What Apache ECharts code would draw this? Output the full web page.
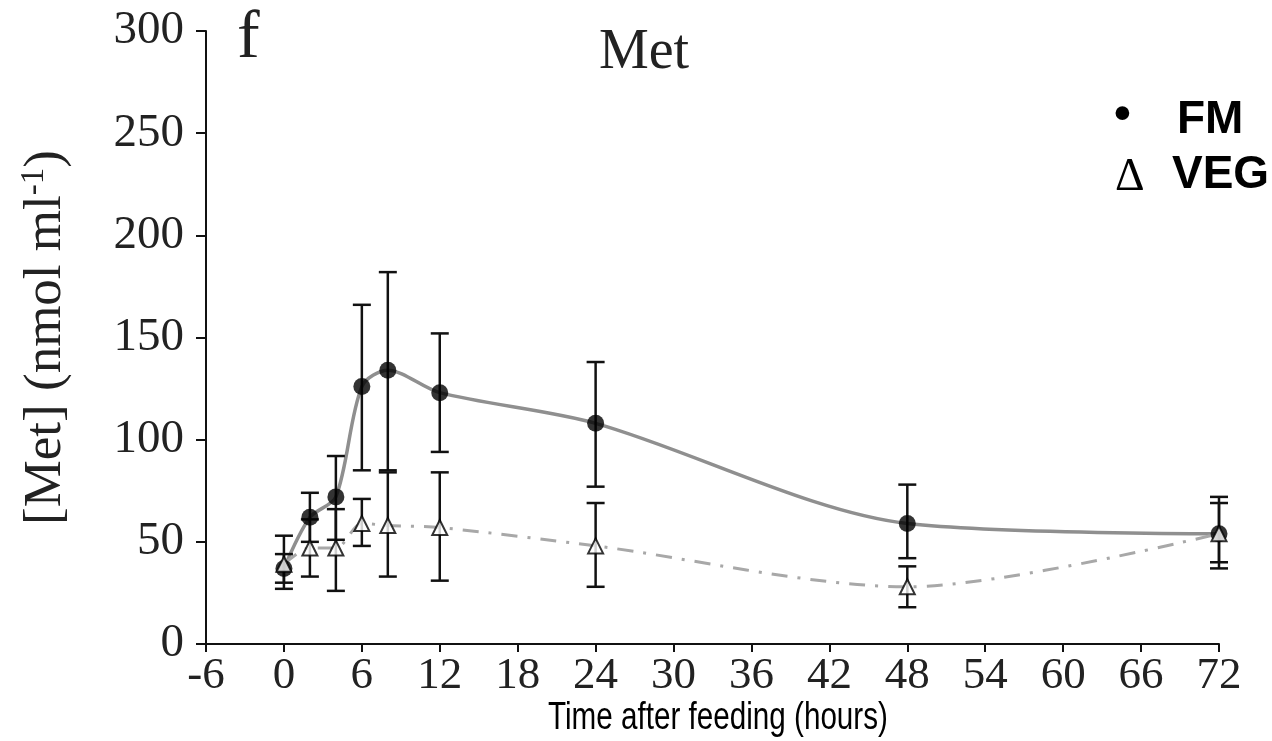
<!DOCTYPE html>
<html>
<head>
<meta charset="utf-8">
<script src="https://cdn.jsdelivr.net/npm/echarts@6/dist/echarts.min.js"></script>
<style>html,body{margin:0;padding:0;background:#fff;}#c{width:1272px;height:741px;}</style>
</head>
<body>
<div id="c"></div>
<script>
// ---- data ----
var hours    = [0, 2, 4, 6, 8, 12, 24, 48, 72];
var fmMean   = [37, 62, 72, 126, 134, 123, 108, 59, 54];
var fmLow    = [27, 50, 51, 85, 85, 94, 77, 42, 37];
var fmHigh   = [53, 74, 92, 166, 182, 152, 138, 78, 72];
var vegMean  = [39, 47, 47, 59, 58, 57, 48, 28, 54];
var vegLow   = [30, 33, 26, 48, 33, 31, 28, 18, 40];
var vegHigh  = [44, 61, 66, 71, 84, 84, 69, 38, 69];
var xTicks   = { min: -6, max: 72, step: 6 };
var yTicks   = { min: 0, max: 300, step: 50 };
var xTitle   = 'Time after feeding (hours)';
var yTitleMain = '[Met] (nmol ml';
var yTitleSup  = '-1';
var panelTitle = 'Met';
var panelLetter = 'f';
var legendNames = ['FM', 'VEG'];

function pairs(xs, ys) { return xs.map(function (x, i) { return [x, ys[i]]; }); }
function errData(xs, lo, hi) { return xs.map(function (x, i) { return [x, lo[i], hi[i]]; }); }

function errRender(params, api) {
  var x = api.value(0);
  var lo = api.coord([x, api.value(1)]);
  var hi = api.coord([x, api.value(2)]);
  var w = 9;
  var st = { stroke: '#111', lineWidth: 2.5 };
  return {
    type: 'group',
    children: [
      { type: 'line', shape: { x1: hi[0], y1: hi[1], x2: lo[0], y2: lo[1] }, style: st },
      { type: 'line', shape: { x1: hi[0] - w, y1: hi[1], x2: hi[0] + w, y2: hi[1] }, style: st },
      { type: 'line', shape: { x1: lo[0] - w, y1: lo[1], x2: lo[0] + w, y2: lo[1] }, style: st }
    ]
  };
}

var serif = '"Liberation Serif", "Times New Roman", serif';
var sans = '"Liberation Sans", Arial, sans-serif';

var chart = echarts.init(document.getElementById('c'), null, { renderer: 'canvas' });
chart.setOption({
  backgroundColor: '#fff',
  animation: false,
  grid: { left: 206, right: 53, top: 31, bottom: 97, containLabel: false },
  xAxis: {
    type: 'value', min: xTicks.min, max: xTicks.max, interval: xTicks.step,
    axisLine: { onZero: false, lineStyle: { color: '#111', width: 2 } },
    axisTick: { show: true, length: 8, inside: false, lineStyle: { color: '#111', width: 2 } },
    axisLabel: { fontFamily: serif, fontSize: 45, color: '#222', margin: 10 },
    splitLine: { show: false }
  },
  yAxis: {
    type: 'value', min: yTicks.min, max: yTicks.max, interval: yTicks.step,
    axisLine: { show: true, onZero: false, lineStyle: { color: '#111', width: 2 } },
    axisTick: { show: true, length: 10, lineStyle: { color: '#111', width: 2 } },
    axisLabel: { fontFamily: serif, fontSize: 47, color: '#222', margin: 22 },
    splitLine: { show: false },
    name: '{a|' + yTitleMain + '}{b|' + yTitleSup + '}{a|)}', nameLocation: 'middle', nameGap: 132, nameRotate: 90,
    nameTextStyle: {
      color: '#222',
      rich: {
        a: { fontFamily: serif, fontSize: 53, color: '#222', lineHeight: 56 },
        b: { fontFamily: serif, fontSize: 33, color: '#222', verticalAlign: 'top', lineHeight: 56, padding: [0, 0, 16, 0] }
      }
    }
  },
  title: [
    { text: panelTitle, left: 639, top: 20, textAlign: 'center',
      textStyle: { fontFamily: serif, fontSize: 56, fontWeight: 'normal', color: '#222' } },
    { text: panelLetter, left: 232, top: 0,
      textStyle: { fontFamily: serif, fontSize: 68, fontWeight: 'normal', color: '#222' } }
  ],
  graphic: [
    { type: 'text', x: 548, y: 700, scaleX: 0.78,
      style: { text: xTitle, font: '38px ' + sans, fill: '#000', verticalAlign: 'top', align: 'left' } },
    { type: 'text', left: 1114, top: 92, style: { text: '\u2022', font: 'bold 48px ' + sans, fill: '#000' } },
    { type: 'text', left: 1177, top: 97, style: { text: legendNames[0], font: 'bold 46px ' + sans, fill: '#000' } },
    { type: 'text', left: 1115, top: 155, style: { text: '\u0394', font: '46px ' + serif, fill: '#000' } },
    { type: 'text', left: 1172, top: 152, style: { text: legendNames[1], font: 'bold 46px ' + sans, fill: '#000' } }
  ],
  series: [
    { name: 'FM', type: 'line', data: pairs(hours, fmMean), smooth: 0.3, z: 2,
      symbol: 'none', lineStyle: { color: '#8f8f8f', width: 3.5 } },
    { name: 'VEG', type: 'line', data: pairs(hours, vegMean), smooth: 0.3, z: 2,
      symbol: 'none', lineStyle: { color: '#a8a8a8', width: 3, type: [16, 10, 3, 10] } },
    { name: 'FM err', type: 'custom', data: errData(hours, fmLow, fmHigh), renderItem: errRender, z: 3 },
    { name: 'VEG err', type: 'custom', data: errData(hours, vegLow, vegHigh), renderItem: errRender, z: 3 },
    { name: 'FM pts', type: 'scatter', data: pairs(hours, fmMean), symbol: 'circle', symbolSize: 17, z: 4,
      itemStyle: { color: '#000' } },
    { name: 'VEG pts', type: 'scatter', data: pairs(hours, vegMean), symbol: 'triangle', symbolSize: 15, z: 5,
      itemStyle: { color: '#fff', borderColor: '#000', borderWidth: 2 } }
  ]
});
</script>
</body>
</html>
